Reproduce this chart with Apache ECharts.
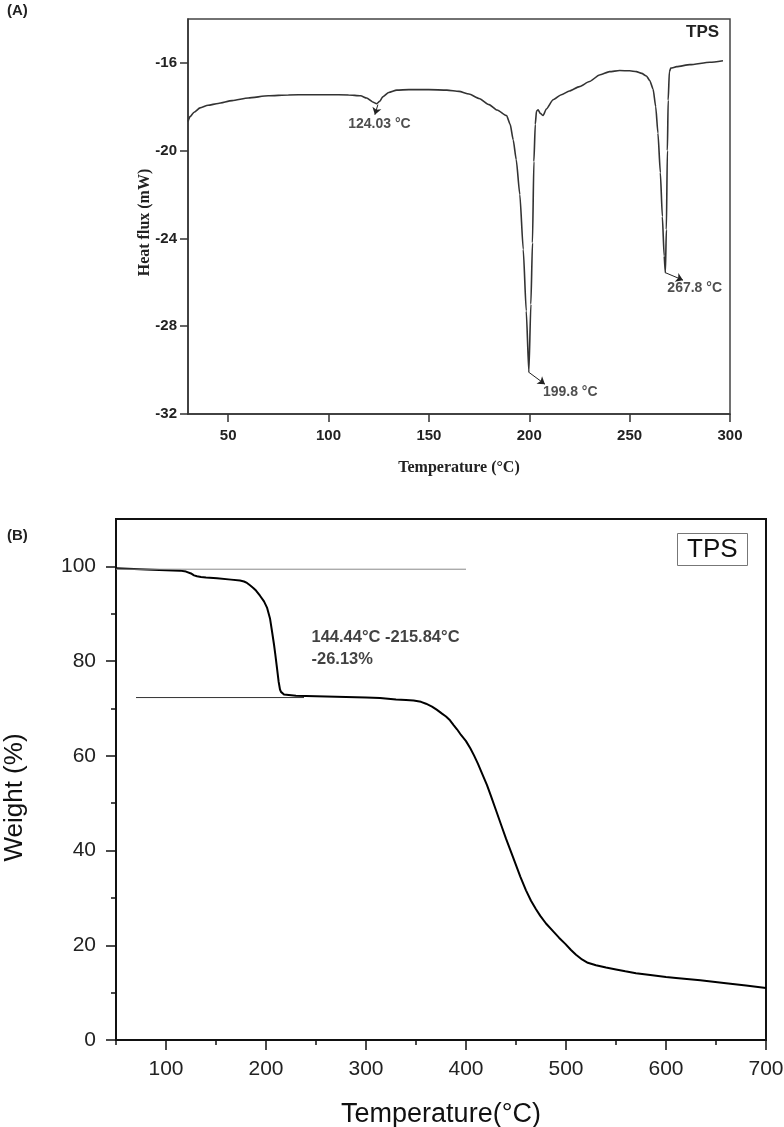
<!DOCTYPE html>
<html>
<head>
<meta charset="utf-8">
<script src="https://cdn.jsdelivr.net/npm/echarts@6.0.0/dist/echarts.min.js"></script>
<style>
html,body{margin:0;padding:0;background:#fff;}
#chart{width:784px;height:1127px;}
</style>
</head>
<body>
<div id="chart"></div>
<script>
// ---------- Panel A: DSC ----------
const dscTemp = [30,31,33,36,40,45,52,60,70,80,90,100,110,116,119,122,124,125.5,127,130,134,140,150,159,165,170,175,180,184,188.7,190.5,192,193.5,195.3,197,198.5,199.8,200.8,201.6,202.3,203,203.6,204.4,205.5,206.9,208.5,211.9,216,220,225,230,235,240,245,250,253.4,256,258.4,260,261.7,263,264.1,265.3,266.3,267.2,267.8,268.3,268.8,269.2,269.8,270.5,273.5,280,290,296.5];
const dscHeat = [-18.67,-18.45,-18.25,-18.05,-17.93,-17.85,-17.72,-17.6,-17.5,-17.46,-17.45,-17.45,-17.46,-17.5,-17.6,-17.78,-17.86,-17.75,-17.55,-17.35,-17.24,-17.22,-17.22,-17.24,-17.3,-17.42,-17.62,-17.9,-18.15,-18.4,-18.8,-19.5,-20.4,-22,-24.5,-27.3,-30.1,-27,-24.2,-20.5,-18.8,-18.2,-18.14,-18.3,-18.4,-18.1,-17.68,-17.45,-17.28,-17.08,-16.85,-16.55,-16.4,-16.35,-16.36,-16.4,-16.48,-16.6,-16.8,-17.2,-18.0,-19.2,-21,-23,-24.8,-25.56,-23.6,-20,-17.7,-16.4,-16.24,-16.17,-16.08,-15.97,-15.9];
const dscXTicks = [50,100,150,200,250,300];
const dscYTicks = [-32,-28,-24,-20,-16];
const dscPeakLabels = ['124.03 °C','199.8 °C','267.8 °C'];
const dscLabelX = [109.8,206.8,268.8];
const dscLabelY = [-18.77,-31.0,-26.27];
const dscArrowFromX = [124.6,199.8,267.8];
const dscArrowFromY = [-17.9,-30.1,-25.56];
const dscArrowToX = [123.1,207.8,276.6];
const dscArrowToY = [-18.36,-30.64,-25.9];

// ---------- Panel B: TGA ----------
const tgaTemp = [50,80,100,114,120,125,128,131,135,140,151,165,174,178,181,184,187,190,194,198,201,204,206,208,209.3,211,212.6,214,215,216,218,220,230,260,300,314,330,340,347.6,355,360,366,371,376,380,384,387.6,391,395,400,404.3,408,412,416,421,425,430,435,440,447,454.3,460,465,470,474.3,480,487,493,499.3,505,510,516,521.8,530,540,550,559.3,570,584.3,600,610,634.3,660,680,700];
const tgaWeight = [99.6,99.35,99.2,99.1,98.9,98.5,98.1,97.9,97.75,97.65,97.5,97.2,97.0,96.8,96.5,96.0,95.5,94.9,93.8,92.6,91.3,89,86.3,83.5,81.4,78.5,75.7,74,73.5,73.1,72.95,72.9,72.7,72.5,72.3,72.2,71.9,71.8,71.7,71.4,71.0,70.4,69.7,68.9,68.3,67.5,66.5,65.6,64.4,63.1,61.6,60.1,58.3,56.3,53.8,51.5,48.5,45.5,42.5,38.6,34.5,31.6,29.4,27.6,26.2,24.6,23.0,21.6,20.3,19.0,18.0,17.0,16.3,15.8,15.3,14.9,14.5,14.1,13.7,13.3,13.1,12.6,12.0,11.5,11.0];
const tgaXTicks = [100,200,300,400,500,600,700];
const tgaXMinor = [50,150,250,350,450,550,650];
const tgaYTicks = [0,20,40,60,80,100];
const tgaYMinor = [10,30,50,70,90];
const tgaUpperLineX = [50,400];
const tgaUpperLineY = [99.4,99.4];
const tgaLowerLineX = [70,238];
const tgaLowerLineY = [72.3,72.3];
const tgaNoteText = '144.44°C -215.84°C\n-26.13%';
const tgaNoteX = 245.5;
const tgaNoteY = 82.6;

const zip = (a,b) => a.map((v,i)=>[v,b[i]]);

const SANS = 'Liberation Sans, Arial, sans-serif';
const SERIF = 'Liberation Serif, Times New Roman, serif';

const chart = echarts.init(document.getElementById('chart'), null, {renderer:'canvas'});
chart.setOption({
  animation: false,
  backgroundColor: '#fff',
  title: [
    {text:'(A)', left:7, top:3, padding:0, textStyle:{fontFamily:SANS,fontSize:15,fontWeight:'bold',color:'#222'}},
    {text:'TPS', left:686, top:24, padding:0, textStyle:{fontFamily:SANS,fontSize:17,fontWeight:'bold',color:'#222'}},
    {text:'(B)', left:7, top:528, padding:0, textStyle:{fontFamily:SANS,fontSize:15,fontWeight:'bold',color:'#222'}},
    {text:'TPS', left:677, top:533, padding:[2,10,1,10], borderColor:'#777', borderWidth:1,
     textStyle:{fontFamily:SANS,fontSize:26,fontWeight:'normal',color:'#111',lineHeight:30}}
  ],
  grid: [
    {left:188, top:19, width:542, height:395, show:true, borderColor:'#444', borderWidth:1.5, containLabel:false, outerBoundsMode:'none'},
    {left:116, top:519, width:650, height:521, show:true, borderColor:'#111', borderWidth:2, containLabel:false, outerBoundsMode:'none'}
  ],
  xAxis: [
    {gridIndex:0, type:'value', min:30, max:300, position:'bottom',
     axisLine:{show:true,lineStyle:{color:'#333',width:1.5}},
     axisTick:{show:true,inside:false,length:8,customValues:dscXTicks,lineStyle:{color:'#333',width:1.5}},
     axisLabel:{customValues:dscXTicks,margin:14,fontFamily:SANS,fontSize:15,fontWeight:'bold',color:'#222'},
     splitLine:{show:false},
     name:'Temperature (°C)', nameLocation:'middle', nameGap:46,
     nameTextStyle:{fontFamily:SERIF,fontSize:16,fontWeight:'bold',color:'#222'}},
    {gridIndex:1, type:'value', min:50, max:700, position:'bottom',
     axisLine:{show:true,lineStyle:{color:'#111',width:2}},
     axisTick:{show:true,inside:false,length:10,customValues:tgaXTicks,lineStyle:{color:'#111',width:1.5}},
     axisLabel:{customValues:tgaXTicks,margin:19,fontFamily:SANS,fontSize:21,color:'#222'},
     splitLine:{show:false},
     name:'Temperature(°C)', nameLocation:'middle', nameGap:61,
     nameTextStyle:{fontFamily:SANS,fontSize:27,color:'#111'}},
    {gridIndex:1, type:'value', min:50, max:700, position:'bottom',
     axisLine:{show:false},
     axisTick:{show:true,inside:false,length:5,customValues:tgaXMinor,lineStyle:{color:'#111',width:1.5}},
     axisLabel:{show:false,customValues:tgaXMinor},
     splitLine:{show:false}}
  ],
  yAxis: [
    {gridIndex:0, type:'value', min:-32, max:-14, position:'left',
     axisLine:{show:true,lineStyle:{color:'#333',width:1.5}},
     axisTick:{show:true,inside:false,length:8,customValues:dscYTicks,lineStyle:{color:'#333',width:1.5}},
     axisLabel:{customValues:dscYTicks,margin:11,fontFamily:SANS,fontSize:15,fontWeight:'bold',color:'#222'},
     splitLine:{show:false},
     name:'Heat flux (mW)', nameLocation:'middle', nameGap:35, nameMoveOverlap:false,
     nameTextStyle:{fontFamily:SERIF,fontSize:16,fontWeight:'bold',color:'#222',padding:[0,12,0,0]}},
    {gridIndex:1, type:'value', min:0, max:110, position:'left',
     axisLine:{show:true,lineStyle:{color:'#111',width:2}},
     axisTick:{show:true,inside:false,length:10,customValues:tgaYTicks,lineStyle:{color:'#111',width:1.5}},
     axisLabel:{customValues:tgaYTicks,margin:20,fontFamily:SANS,fontSize:21,color:'#222'},
     splitLine:{show:false},
     name:'Weight (%)', nameLocation:'middle', nameGap:88, nameMoveOverlap:false,
     nameTextStyle:{fontFamily:SANS,fontSize:26,color:'#111',padding:[0,36,0,0]}},
    {gridIndex:1, type:'value', min:0, max:110, position:'left',
     axisLine:{show:false},
     axisTick:{show:true,inside:false,length:5,customValues:tgaYMinor,lineStyle:{color:'#111',width:1.5}},
     axisLabel:{show:false,customValues:tgaYMinor},
     splitLine:{show:false}}
  ],
  series: [
    {type:'line', xAxisIndex:0, yAxisIndex:0, data:zip(dscTemp,dscHeat), showSymbol:false, symbol:'none',
     lineStyle:{color:'#333',width:1.6}, smooth:0.2, smoothMonotone:'x', silent:true,
     markLine:{silent:true, symbol:['none','arrow'], symbolSize:7, animation:false,
       label:{show:false}, lineStyle:{type:'solid',color:'#222',width:1},
       data: dscArrowFromX.map((x,i)=>[{coord:[x,dscArrowFromY[i]]},{coord:[dscArrowToX[i],dscArrowToY[i]]}])}},
    {type:'scatter', xAxisIndex:0, yAxisIndex:0, symbolSize:0, silent:true,
     data: dscLabelX.map((x,i)=>({value:[x,dscLabelY[i]], name:dscPeakLabels[i]})),
     label:{show:true, position:'right', distance:0, formatter:p=>p.name,
       fontFamily:SANS, fontSize:14, fontWeight:'bold', color:'#222'}},
    {type:'line', xAxisIndex:1, yAxisIndex:1, data:zip(tgaTemp,tgaWeight), showSymbol:false, symbol:'none',
     lineStyle:{color:'#000',width:2, join:'round'}, smooth:false, silent:true},
    {type:'line', xAxisIndex:1, yAxisIndex:1, data:zip(tgaUpperLineX,tgaUpperLineY), showSymbol:false, symbol:'none',
     lineStyle:{color:'#888',width:1}, silent:true},
    {type:'line', xAxisIndex:1, yAxisIndex:1, data:zip(tgaLowerLineX,tgaLowerLineY), showSymbol:false, symbol:'none',
     lineStyle:{color:'#333',width:1}, silent:true},
    {type:'scatter', xAxisIndex:1, yAxisIndex:1, symbolSize:0, silent:true,
     data:[{value:[tgaNoteX,tgaNoteY], name:tgaNoteText}],
     label:{show:true, position:'right', distance:0, formatter:p=>p.name, align:'left',
       fontFamily:SANS, fontSize:16.5, fontWeight:'bold', color:'#111', lineHeight:22}}
  ]
});
</script>
</body>
</html>
